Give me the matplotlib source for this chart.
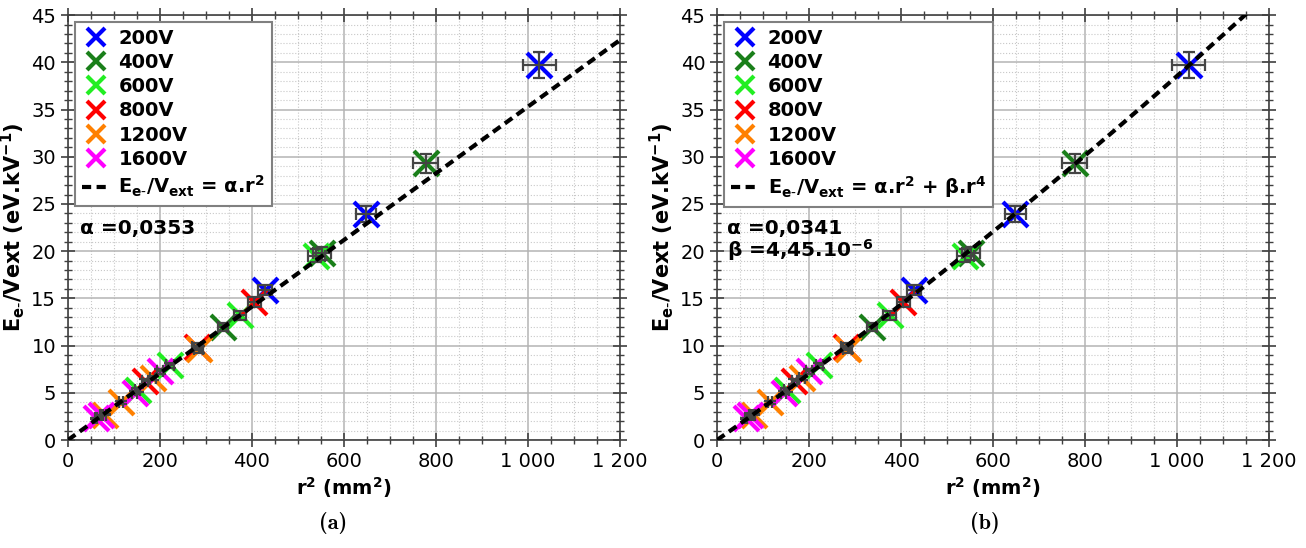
import numpy as np
import matplotlib
matplotlib.use("Agg")
import matplotlib.pyplot as plt
import matplotlib.ticker

# data: r^2 (mm^2) and E/Vext (eV/kV) per voltage
volts = ["200V", "400V", "600V", "800V", "1200V", "1600V"]
colors = ["#0000ff", "#1a7f1a", "#22ee22", "#ff0000", "#ff8000", "#ff00ff"]
r2_200 = [428, 648, 1025]
e_200 = [15.9, 23.9, 39.7]
r2_400 = [337, 553, 778]
e_400 = [12.0, 19.8, 29.3]
r2_600 = [152, 222, 375, 540]
e_600 = [5.3, 7.9, 13.2, 19.5]
r2_800 = [168, 280, 405]
e_800 = [6.2, 9.9, 14.6]
r2_1200 = [80, 115, 185, 284]
e_1200 = [2.7, 4.0, 6.6, 9.6]
r2_1600 = [62, 72, 145, 200]
e_1600 = [2.3, 2.6, 5.0, 7.3]
r2_all = [r2_200, r2_400, r2_600, r2_800, r2_1200, r2_1600]
e_all = [e_200, e_400, e_600, e_800, e_1200, e_1600]
rel_err = 0.035

alpha_a = 0.0353
alpha_b = 0.0341
beta_b = 4.45e-6

plt.rcParams["font.family"] = "DejaVu Sans"
plt.rcParams["mathtext.fontset"] = "dejavusans"
plt.rcParams["mathtext.default"] = "bf"

fig = plt.figure(figsize=(13.06, 5.48), dpi=100)
ax_a = fig.add_axes([0.052, 0.197, 0.4227, 0.7755])
ax_b = fig.add_axes([0.549, 0.197, 0.4227, 0.7755])

xfit = np.linspace(0, 1200, 400)
fits = [alpha_a * xfit, alpha_b * xfit + beta_b * xfit ** 2]
fit_labels = [r"E$_{e\text{-}}$/V$_{ext}$ = α.r$^{2}$",
              r"E$_{e\text{-}}$/V$_{ext}$ = α.r$^{2}$ + β.r$^{4}$"]

for ax, yfit, flab in zip([ax_a, ax_b], fits, fit_labels):
    for v, c, xs, ys in zip(volts, colors, r2_all, e_all):
        xs = np.array(xs, float)
        ys = np.array(ys, float)
        ax.plot(xs, ys, "x", color=c, markersize=18, markeredgewidth=3,
                label=v, zorder=3)
        ax.errorbar(xs, ys, xerr=xs * rel_err, yerr=ys * rel_err, fmt="none",
                    ecolor="#444444", elinewidth=1.6, capsize=4, capthick=1.6,
                    zorder=4)
    ax.plot(xfit, yfit, color="k", ls=(0, (2.2, 1.3)), lw=3, label=flab,
            zorder=5)

    ax.set_xlim(0, 1200)
    ax.set_ylim(0, 45)
    ax.xaxis.set_major_locator(matplotlib.ticker.MultipleLocator(200))
    ax.xaxis.set_minor_locator(matplotlib.ticker.MultipleLocator(50))
    ax.yaxis.set_major_locator(matplotlib.ticker.MultipleLocator(5))
    ax.yaxis.set_minor_locator(matplotlib.ticker.MultipleLocator(1))
    ax.xaxis.set_major_formatter(matplotlib.ticker.FuncFormatter(
        lambda v, p: "{:,}".format(int(v)).replace(",", " ")))
    ax.grid(which="major", color="#b4b4b4", lw=1.1, ls="-")
    ax.grid(which="minor", color="#c8c8c8", lw=0.8, ls=":")
    ax.set_axisbelow(True)
    for s in ax.spines.values():
        s.set_color("#404040")
        s.set_linewidth(1.2)
    ax.tick_params(which="both", direction="inout", top=True, right=True,
                   color="#404040", labelsize=14)
    ax.tick_params(which="major", length=10, width=1.2)
    ax.tick_params(which="minor", length=6, width=1.0)

    ax.set_xlabel(r"r$^{2}$ (mm$^{2}$)", fontsize=14, fontweight="bold",
                  labelpad=3)
    ax.set_ylabel(r"E$_{e\text{-}}$/Vext (eV.kV$^{-1}$)", fontsize=15,
                  fontweight="bold", labelpad=3)

    leg = ax.legend(loc="upper left", prop={"weight": "bold", "size": 14},
                    fancybox=False, framealpha=1, edgecolor="#808080",
                    handlelength=1.5, labelspacing=0.27, borderpad=0.35,
                    handletextpad=0.4, markerscale=0.75,
                    borderaxespad=0.35, bbox_to_anchor=(0.0, 1.0))
    leg.get_frame().set_linewidth(1.5)

ax_a.text(26, 22.4, "α =0,0353", fontsize=14.5, fontweight="bold",
          ha="left", va="center")
ax_b.text(22, 22.4, "α =0,0341", fontsize=14.5, fontweight="bold",
          ha="left", va="center")
ax_b.text(22, 20.1, r"β =4,45.10$^{-6}$", fontsize=14.5, fontweight="bold",
          ha="left", va="center")

fig.text(0.255, 0.045, "(a)", fontsize=16, family="cmb10", ha="center",
         va="center")
fig.text(0.754, 0.045, "(b)", fontsize=16, family="cmb10", ha="center",
         va="center")

plt.savefig("out.png", dpi=100)
